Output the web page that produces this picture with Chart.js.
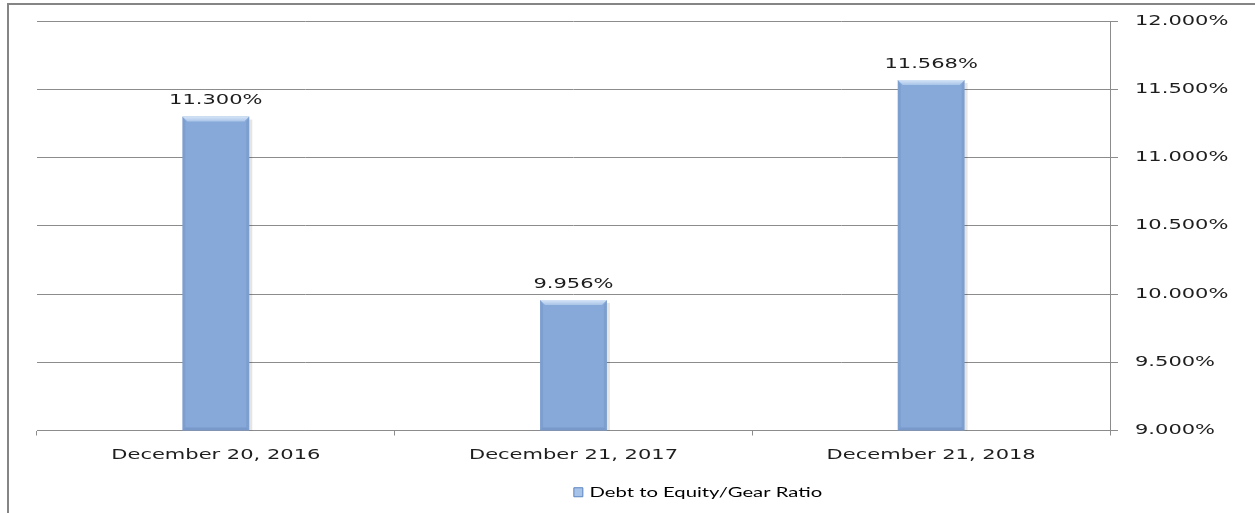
<!DOCTYPE html>
<html>
<head>
<meta charset="utf-8">
<title>Debt to Equity/Gear Ratio</title>
<script src="https://cdn.jsdelivr.net/npm/chart.js@4.4.1/dist/chart.umd.min.js"></script>
<style>
  html, body { margin: 0; padding: 0; background: #fff; overflow: hidden; }
  #frame {
    position: absolute; left: 7px; top: 3px;
    width: 1300px; height: 600px;
    border: 2px solid #858585;
  }
  #gearChart { position: absolute; left: 0; top: 0; }
</style>
</head>
<body>
<div id="frame"></div>
<canvas id="gearChart" width="1255" height="513"></canvas>
<script>
const periods = ['December 20, 2016', 'December 21, 2017', 'December 21, 2018'];
const gearRatio = [11.300, 9.956, 11.568];
const yTickValues = [9.0, 9.5, 10.0, 10.5, 11.0, 11.5, 12.0];
const seriesName = 'Debt to Equity/Gear Ratio';

// the old office charts render their text wide, so stretch every glyph run horizontally
const TEXT_STRETCH = 1.5;
const proto = CanvasRenderingContext2D.prototype;
const baseFillText = proto.fillText;
const baseMeasureText = proto.measureText;
proto.fillText = function (text, x, y, maxWidth) {
    this.save();
    this.translate(x, y);
    this.scale(TEXT_STRETCH, 1);
    if (maxWidth !== undefined) baseFillText.call(this, text, 0, 0, maxWidth / TEXT_STRETCH);
    else baseFillText.call(this, text, 0, 0);
    this.restore();
};
proto.measureText = function (text) {
    const m = baseMeasureText.call(this, text);
    return {
        width: m.width * TEXT_STRETCH,
        actualBoundingBoxAscent: m.actualBoundingBoxAscent,
        actualBoundingBoxDescent: m.actualBoundingBoxDescent,
        actualBoundingBoxLeft: m.actualBoundingBoxLeft * TEXT_STRETCH,
        actualBoundingBoxRight: m.actualBoundingBoxRight * TEXT_STRETCH
    };
};

const axisFont = { family: 'DejaVu Sans', size: 14 };
const lineGray = '#8c8c8c';

// bevelled edges on each bar
const barBevel = {
    id: 'barBevel',
    afterDatasetsDraw(chart) {
        const ctx = chart.ctx;
        const floor = chart.chartArea.bottom;
        chart.getDatasetMeta(0).data.forEach(bar => {
            const { x, y, width } = bar.getProps(['x', 'y', 'width'], true);
            const base = floor;
            const l = x - width / 2, r = x + width / 2, b = 5;
            ctx.save();
            // soft drop shadow on the right
            ctx.fillStyle = 'rgba(0,0,0,0.10)';
            ctx.fillRect(r, y + 3, 3, base - y - 3);
            // top highlight
            const g = ctx.createLinearGradient(0, y, 0, y + b);
            g.addColorStop(0, '#d6e5f7');
            g.addColorStop(1, '#a9c4e8');
            ctx.fillStyle = g;
            ctx.beginPath();
            ctx.moveTo(l, y); ctx.lineTo(r, y); ctx.lineTo(r - b, y + b); ctx.lineTo(l + b, y + b);
            ctx.closePath(); ctx.fill();
            // darker sides
            ctx.fillStyle = 'rgba(60,90,140,0.13)';
            ctx.beginPath();
            ctx.moveTo(l, y); ctx.lineTo(l + 3, y + b); ctx.lineTo(l + 3, base - 3); ctx.lineTo(l, base);
            ctx.closePath(); ctx.fill();
            ctx.beginPath();
            ctx.moveTo(r, y); ctx.lineTo(r - 3, y + b); ctx.lineTo(r - 3, base - 3); ctx.lineTo(r, base);
            ctx.closePath(); ctx.fill();
            ctx.fillStyle = 'rgba(60,90,140,0.2)';
            ctx.beginPath();
            ctx.moveTo(l, base); ctx.lineTo(l + 3, base - 3); ctx.lineTo(r - 3, base - 3); ctx.lineTo(r, base);
            ctx.closePath(); ctx.fill();
            ctx.restore();
        });
    }
};

// value written above every bar
const valueLabels = {
    id: 'valueLabels',
    afterDatasetsDraw(chart) {
        const ctx = chart.ctx;
        const ds = chart.data.datasets[0];
        ctx.save();
        ctx.font = `${axisFont.size}px "${axisFont.family}"`;
        ctx.fillStyle = '#1e1e1e';
        ctx.textAlign = 'center';
        ctx.textBaseline = 'middle';
        chart.getDatasetMeta(0).data.forEach((bar, i) => {
            ctx.fillText(ds.data[i].toFixed(3) + '%', bar.x, bar.y - 16);
        });
        ctx.restore();
    }
};

// the legend sits centred under the whole frame, a little right of the plot
const legendShift = {
    id: 'legendShift',
    afterLayout(chart) {
        chart.legend.left += 52;
        chart.legend.right += 52;
    }
};

new Chart(document.getElementById('gearChart'), {
    type: 'bar',
    data: {
        labels: periods,
        datasets: [{
            label: seriesName,
            data: gearRatio,
            backgroundColor: '#87a9d9',
            borderWidth: 0,
            barPercentage: 0.187,
            categoryPercentage: 1
        }]
    },
    options: {
        responsive: false,
        animation: false,
        layout: { padding: { left: 37, top: 21, right: 0, bottom: 4 } },
        plugins: {
            tooltip: { enabled: false },
            legend: {
                position: 'bottom',
                labels: {
                    font: { family: 'Lato', size: 13.5 },
                    color: '#1e1e1e',
                    boxWidth: 9,
                    boxHeight: 9,
                    padding: 10,
                    generateLabels: chart => [{
                        text: seriesName,
                        fillStyle: '#a8c3e8',
                        strokeStyle: '#5b84bf',
                        lineWidth: 1,
                        datasetIndex: 0
                    }]
                }
            }
        },
        scales: {
            x: {
                offset: true,
                grid: { drawOnChartArea: false, drawTicks: true, tickLength: 5, color: lineGray, offset: true },
                border: { display: true, color: lineGray },
                ticks: { font: axisFont, color: '#1e1e1e', padding: 11, maxRotation: 0, autoSkip: false },
                afterFit: s => { s.height = 45; }
            },
            y: {
                position: 'right',
                min: 9,
                max: 12,
                afterBuildTicks: s => { s.ticks = yTickValues.map(v => ({ value: v })); },
                grid: { color: lineGray, tickLength: 8 },
                border: { display: true, color: lineGray },
                ticks: {
                    font: axisFont,
                    color: '#1e1e1e',
                    padding: 17,
                    callback: v => v.toFixed(3) + '%'
                },
                afterFit: s => {
                    s.width = 145;
                    s.paddingTop = 0;
                    s.paddingBottom = 0;
                }
            }
        }
    },
    plugins: [barBevel, valueLabels, legendShift]
});
</script>
</body>
</html>
